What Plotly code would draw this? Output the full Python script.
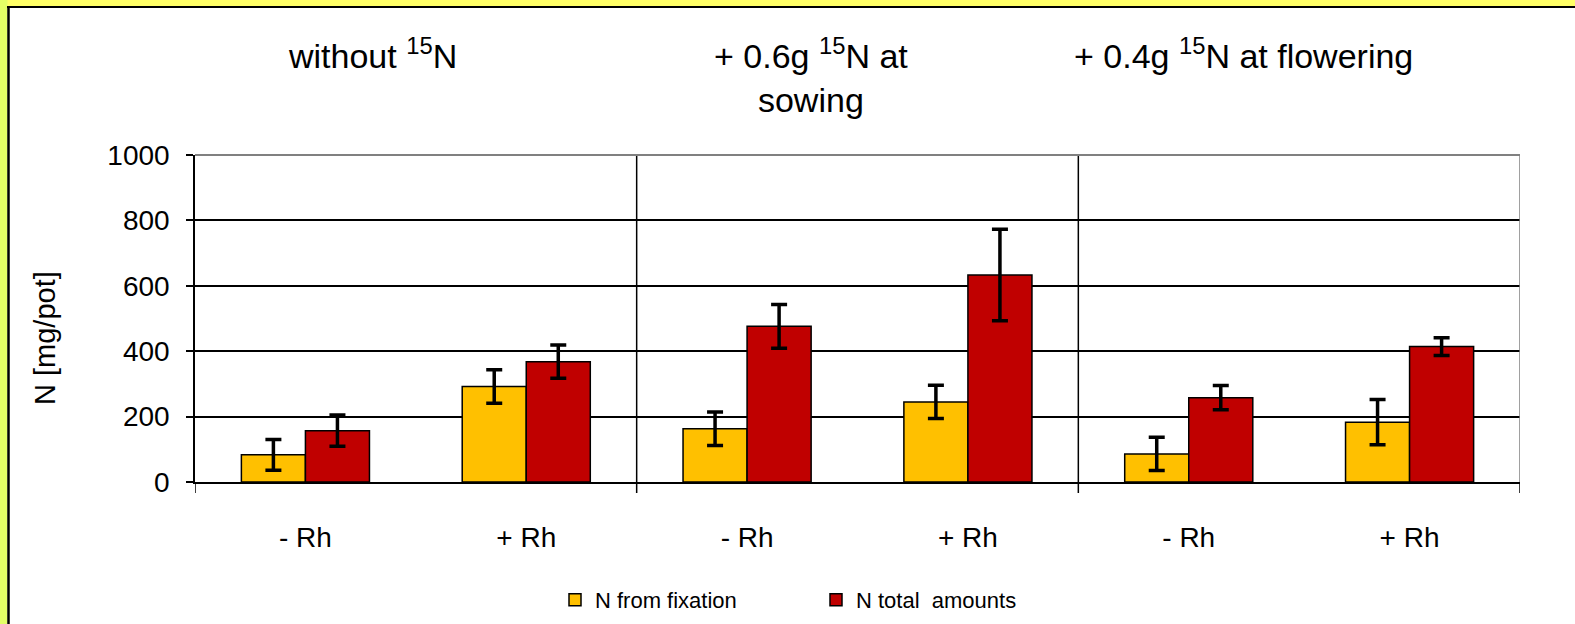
import plotly.graph_objects as go

# ---------------- data ----------------
categories = ["- Rh", "+ Rh", "- Rh", "+ Rh", "- Rh", "+ Rh"]
group_titles = ["without <sup>15</sup>N",
                "+ 0.6g <sup>15</sup>N at<br>sowing",
                "+ 0.4g <sup>15</sup>N at flowering"]
n_fixation = [83, 292, 163, 245, 86, 183]
n_fixation_err = [47, 51, 51, 51, 51, 69]
n_total = [157, 368, 476, 633, 258, 414]
n_total_err = [48, 51, 67, 140, 37, 27]
y_ticks = [0, 200, 400, 600, 800, 1000]
series_names = ["N from fixation", "N total  amounts"]

# ---------------- geometry helpers ----------------
W, H = 1575, 624
L, R, T, B = 195, 1520, 155, 482
def px(x):
    return (x - L) / (R - L)
def py(y):
    return (B - y) / (B - T)

FONT = "Arial, Liberation Sans, sans-serif"
xpos = list(range(len(categories)))

fig = go.Figure()
fig.add_trace(go.Bar(
    x=xpos, y=n_fixation, name=series_names[0],
    marker=dict(color="#FFC000", line=dict(color="black", width=1.5)),
    error_y=dict(type="data", array=n_fixation_err, visible=True,
                 color="black", thickness=3.5, width=8),
))
fig.add_trace(go.Bar(
    x=xpos, y=n_total, name=series_names[1],
    marker=dict(color="#C00000", line=dict(color="black", width=1.5)),
    error_y=dict(type="data", array=n_total_err, visible=True,
                 color="black", thickness=3.5, width=8),
))

shapes = []
for xb in [1.5, 3.5]:
    shapes.append(dict(type="line", xref="x", yref="paper", x0=xb, x1=xb,
                       y0=py(493), y1=1, line=dict(color="black", width=1.5)))
shapes.append(dict(type="line", xref="x", yref="paper", x0=-0.5, x1=-0.5,
                   y0=py(493), y1=0, line=dict(color="black", width=1.5)))
shapes.append(dict(type="line", xref="x", yref="paper", x0=5.5, x1=5.5,
                   y0=0, y1=1, line=dict(color="#808080", width=1.5)))
shapes.append(dict(type="line", xref="x", yref="paper", x0=5.5, x1=5.5,
                   y0=py(493), y1=0, line=dict(color="black", width=1.5)))
shapes.append(dict(type="line", xref="paper", yref="paper", x0=0, x1=1,
                   y0=1, y1=1, line=dict(color="#808080", width=2)))
# outer frame: yellow bands + black lines (top & left)
shapes.append(dict(type="rect", xref="paper", yref="paper", x0=px(0), x1=px(W),
                   y0=py(0), y1=py(6.5), line=dict(width=0), fillcolor="#FFFF66"))
shapes.append(dict(type="rect", xref="paper", yref="paper", x0=px(0), x1=px(7.5),
                   y0=py(0), y1=py(H), line=dict(width=0), fillcolor="#E4FF66"))
shapes.append(dict(type="line", xref="paper", yref="paper", x0=px(7), x1=px(W),
                   y0=py(7), y1=py(7), line=dict(color="black", width=2)))
shapes.append(dict(type="line", xref="paper", yref="paper", x0=px(8.5), x1=px(8.5),
                   y0=py(6), y1=py(H), line=dict(color="black", width=2.5)))

annotations = []
title_x = [372, 811, 1243]
for t, x in zip(group_titles, title_x):
    annotations.append(dict(text=t, xref="paper", yref="paper", x=px(x), y=py(30),
                            xanchor="center", yanchor="top", showarrow=False,
                            font=dict(family=FONT, size=34, color="black")))
annotations.append(dict(text="N [mg/pot]", xref="paper", yref="paper",
                        x=px(45), y=py(338), textangle=-90, showarrow=False,
                        xanchor="center", yanchor="middle",
                        font=dict(family=FONT, size=29, color="black")))

fig.update_layout(
    width=W, height=H,
    margin=dict(l=L, r=W - R, t=T, b=H - B, autoexpand=False),
    paper_bgcolor="white", plot_bgcolor="white",
    barmode="group", bargap=0.42, bargroupgap=0,
    font=dict(family=FONT, color="black"),
    shapes=shapes, annotations=annotations,
    legend=dict(orientation="h", x=px(555), y=py(600), xanchor="left", yanchor="middle",
                font=dict(family=FONT, size=22, color="black"),
                itemwidth=30, entrywidth=216, bgcolor="rgba(0,0,0,0)"),
    xaxis=dict(range=[-0.5, 5.5], tickmode="array", tickvals=xpos, ticktext=categories,
               showline=True, linecolor="black", linewidth=1.5, ticks="",
               showgrid=False, zeroline=False, ticklabelstandoff=30,
               tickfont=dict(family=FONT, size=28, color="black")),
    yaxis=dict(range=[0, 1000], tickmode="array", tickvals=y_ticks,
               showline=True, linecolor="black", linewidth=1.5,
               ticks="outside", ticklen=7, tickwidth=1.5, tickcolor="black",
               showgrid=True, gridcolor="black", gridwidth=1.5, zeroline=False,
               ticklabelstandoff=11,
               tickfont=dict(family=FONT, size=28, color="black")),
)

fig.write_html("out.html", config={"displayModeBar": False},
               post_script="document.body.style.margin='0';")
